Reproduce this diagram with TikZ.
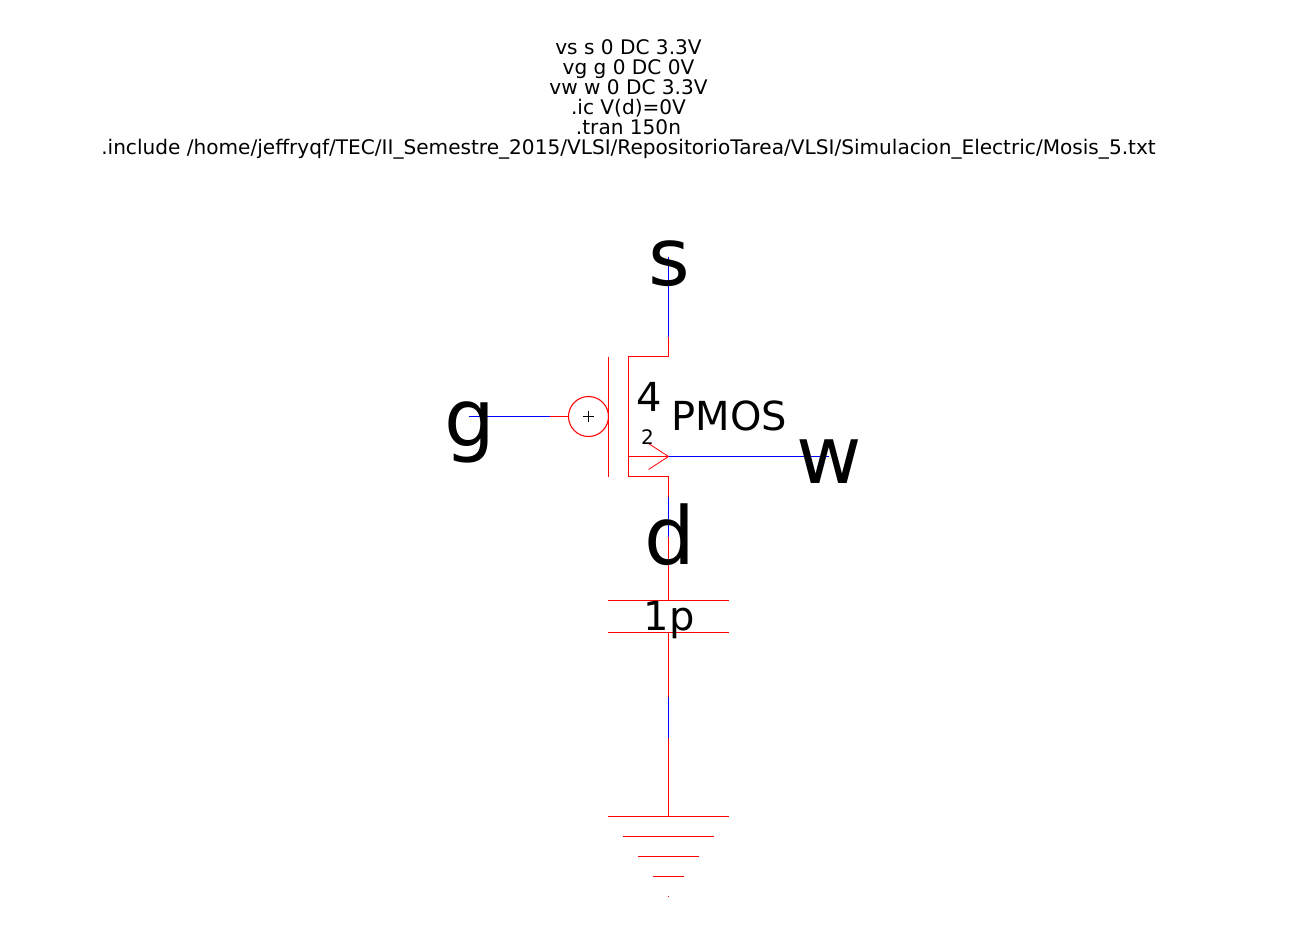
\documentclass[tikz,border=0pt]{standalone}
\usepackage{fontspec}
\setmainfont{DejaVu Sans}
\definecolor{wred}{RGB}{255,0,0}
\definecolor{wblue}{RGB}{0,0,255}
\tikzset{
  rw/.style={draw=wred,line width=0.8pt},
  bw/.style={draw=wblue,line width=0.8pt},
  lbl/.style={inner sep=0pt,outer sep=0pt,anchor=base,text=black},
  big/.style={lbl,font=\fontsize{60}{60}\selectfont},
  mid/.style={lbl,font=\fontsize{30}{30}\selectfont},
  small/.style={lbl,font=\fontsize{15}{15}\selectfont},
  spice/.style={lbl,font=\fontsize{15.07}{15.07}\selectfont},
}
\begin{document}
\begin{tikzpicture}[x=0.75pt,y=-0.75pt]
\useasboundingbox (0,0) rectangle (1296,936);
% named points
\coordinate (sEnd) at (668.5,256.5);
\coordinate (sJ) at (668.5,336.5);
\coordinate (sC) at (668.5,356.5);
\coordinate (tl) at (628.5,356.5);
\coordinate (bl) at (628.5,476.5);
\coordinate (dC) at (668.5,476.5);
\coordinate (dJ1) at (668.5,496.5);
\coordinate (dJ2) at (668.5,536.5);
\coordinate (capT) at (668.5,600.5);
\coordinate (capB) at (668.5,632.5);
\coordinate (gnd1) at (668.5,696.5);
\coordinate (gnd2) at (668.5,737.5);
\coordinate (gnd) at (668.5,816.5);
\coordinate (gEnd) at (468.5,416.5);
\coordinate (gJ) at (549.5,416.5);
\coordinate (wC) at (628.5,456.5);
\coordinate (wJ) at (668.5,456.5);
\coordinate (wEnd) at (828.5,456.5);
\coordinate (barT) at (608.5,356.5);
\coordinate (barB) at (608.5,476.5);
\coordinate (ah1) at (648.5,443.5);
\coordinate (ah2) at (648.5,469.5);
\node[circle,rw,minimum size=30pt,inner sep=0pt,outer sep=0pt] (bub) at (588.5,416.5) {};
% source
\draw[bw] (sEnd) -- (sJ);
\draw[rw] (sJ) -- (sC) -- (tl) -- (bl) -- (dC) -- (dJ1);
\draw[bw] (dJ1) -- (dJ2);
\draw[rw] (dJ2) -- (capT);
% gate
\draw[rw] (barT) -- (barB);
\draw[bw] (gEnd) -- (gJ);
\draw[rw] (gJ) -- (bub.west);
\draw[black,line width=0.5pt] (583,416.5) -- (594,416.5) (588.5,411) -- (588.5,422);
% well
\draw[rw] (wC) -- (wJ);
\draw[rw,line width=0.6pt] (ah1) -- (wJ) -- (ah2);
\draw[bw] (wJ) -- (wEnd);
% capacitor
\draw[rw] (608,600.5) -- (729,600.5);
\draw[rw] (608,632.5) -- (729,632.5);
\draw[rw] (capB) -- (gnd1);
\draw[bw] (gnd1) -- (gnd2);
\draw[rw] (gnd2) -- (gnd);
% ground
\draw[rw] (608,816.5) -- (729,816.5);
\draw[rw] (623,836.5) -- (714,836.5);
\draw[rw] (638,856.5) -- (699,856.5);
\draw[rw] (653,876.5) -- (684,876.5);
\draw[rw] (668,896.5) -- (669,896.5);
% texts
\node[spice] (t1) at (628.5,54) {vs s 0 DC 3.3V};
\node[spice] (t2) at (628.5,74) {vg g 0 DC 0V};
\node[spice] (t3) at (628.5,94) {vw w 0 DC 3.3V};
\node[spice] (t4) at (628.5,114) {.ic V(d)=0V};
\node[spice] (t5) at (628.5,134) {.tran 150n};
\node[spice] (t6) at (628.5,154) {.include /home/jeffryqf/TEC/II\_Semestre\_2015/VLSI/RepositorioTarea/VLSI/Simulacion\_Electric/Mosis\_5.txt};
\node[big] (ls) at (669.5,285) {s};
\node[big] (lg) at (470,446) {g};
\node[big] (lw) at (829,483) {w};
\node[big] (ld) at (670,564) {d};
\node[mid] (l4) at (649,411) {4};
\node[mid] (lp) at (729.5,430) {PMOS};
\node[small] (l2) at (647.5,444) {2};
\node[mid] (lc) at (669,630) {1p};
\end{tikzpicture}
\end{document}
